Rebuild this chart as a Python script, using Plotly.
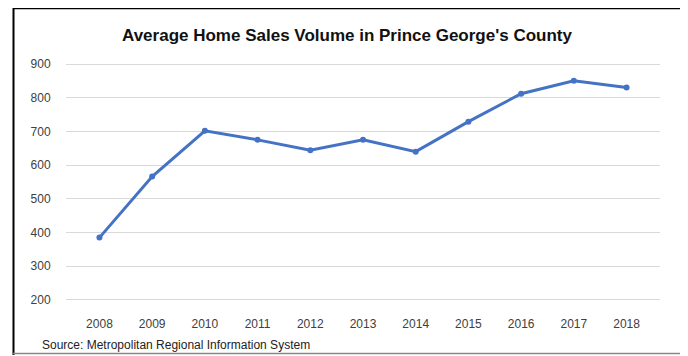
import plotly.graph_objects as go

years = ["2008", "2009", "2010", "2011", "2012", "2013", "2014", "2015", "2016", "2017", "2018"]
volume = [385, 566, 702, 675, 644, 675, 640, 729, 812, 850, 830]
y_ticks = [200, 300, 400, 500, 600, 700, 800, 900]

# page body adds an 8px offset; work in reference pixel coordinates
OFF = 8
W, H = 688 - OFF, 356 - OFF
PL, PR, PT, PB = 66, 660, 63, 301  # plot area in reference pixels
L, R, T, B = PL - OFF, 688 - PR, PT - OFF, 356 - PB
pw, ph = W - L - R, H - T - B

def px(x):
    return (x - PL) / pw

def py(y):
    return (PB - y) / ph

fig = go.Figure()
fig.add_trace(go.Scatter(
    x=years, y=volume, mode="lines+markers",
    line=dict(color="#4472C4", width=3),
    marker=dict(color="#4472C4", size=6),
    showlegend=False,
))

fnt = "Liberation Sans, Arial, sans-serif"
fig.update_layout(
    width=W, height=H,
    margin=dict(l=L, r=R, t=T, b=B),
    paper_bgcolor="white", plot_bgcolor="white",
    font=dict(family=fnt, color="#404040", size=12),
    title=dict(text="<b>Average Home Sales Volume in Prince George's County</b>",
               x=(347 - OFF) / W, xanchor="center", y=1 - (35 - OFF) / H, yanchor="middle",
               font=dict(family=fnt, size=17, color="#111111")),
    xaxis=dict(type="category", showgrid=False, zeroline=False, showline=False,
               ticks="outside", ticklen=12, tickcolor="rgba(0,0,0,0)",
               tickfont=dict(size=12, color="#404040")),
    yaxis=dict(range=[197, 903], tickvals=y_ticks, showgrid=True, gridcolor="#d9d9d9",
               gridwidth=1, zeroline=False, showline=False,
               ticks="outside", ticklen=12, tickcolor="rgba(0,0,0,0)",
               tickfont=dict(size=12, color="#404040")),
    annotations=[dict(text="Source: Metropolitan Regional Information System",
                      xref="paper", yref="paper", x=px(40), y=py(345),
                      xanchor="left", yanchor="middle", showarrow=False,
                      font=dict(family=fnt, size=12, color="#222222"))],
    shapes=[
        dict(type="line", xref="paper", yref="paper", x0=px(13), x1=px(700),
             y0=py(8), y1=py(8), line=dict(color="black", width=2.5)),
        dict(type="line", xref="paper", yref="paper", x0=px(13.5), x1=px(13.5),
             y0=py(7), y1=py(355), line=dict(color="black", width=2)),
        dict(type="line", xref="paper", yref="paper", x0=px(13), x1=px(700),
             y0=py(353.5), y1=py(353.5), line=dict(color="#888888", width=1.5)),
    ],
)

fig.write_html("out.html")
